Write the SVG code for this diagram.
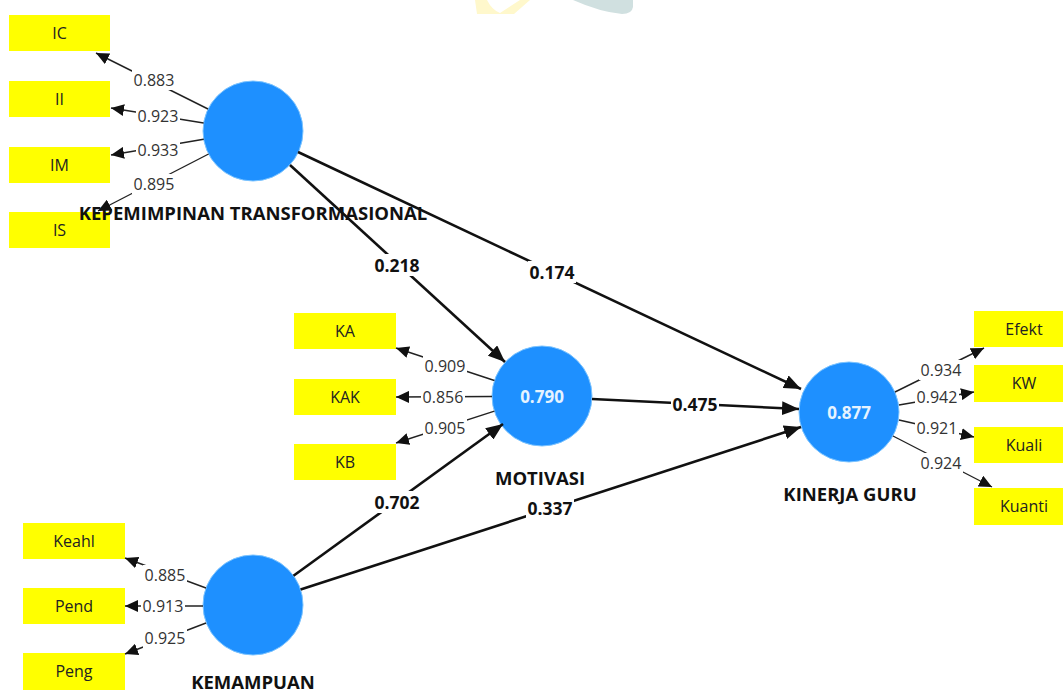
<svg xmlns="http://www.w3.org/2000/svg" width="1063" height="693" viewBox="0 0 1063 693">
<style>
.box{fill:#ffff00}
.boxt{font-family:"Open Sans","Noto Sans",sans-serif;font-size:16px;fill:#222;text-anchor:middle;dominant-baseline:central}
.lv{fill:#1e90ff;stroke:#7cc4ff;stroke-width:1}
.lvt{font-family:"Open Sans","Noto Sans",sans-serif;font-size:17px;font-weight:bold;fill:#e6f3ff;text-anchor:middle;dominant-baseline:central}
.title{font-family:"Open Sans","Noto Sans",sans-serif;font-size:18.5px;font-weight:bold;fill:#111;text-anchor:middle;dominant-baseline:central}
.ol{stroke:#222;stroke-width:1.4;fill:none;marker-end:url(#ah)}
.pl{stroke:#111;stroke-width:2.6;fill:none;marker-end:url(#ahb)}
.bg{fill:#ffffff}
.olt{font-family:"Open Sans","Noto Sans",sans-serif;font-size:16px;fill:#333;text-anchor:middle;dominant-baseline:central}
.plt{font-family:"Open Sans","Noto Sans",sans-serif;font-size:17.5px;font-weight:bold;fill:#111;text-anchor:middle;dominant-baseline:central}
</style>
<defs>
<marker id="ah" markerUnits="userSpaceOnUse" markerWidth="14" markerHeight="12" refX="13" refY="6" orient="auto">
<path d="M0,0 L13,6 L0,12 Z" fill="#111"/>
</marker>
<marker id="ahb" markerUnits="userSpaceOnUse" markerWidth="18" markerHeight="14" refX="17" refY="7" orient="auto">
<path d="M0,0 L17,7 L0,14 Z" fill="#111"/>
</marker>
</defs>
<rect width="1063" height="693" fill="#ffffff"/>
<g id="watermark">
<path d="M475,0 L487,0 Q492,10 500,13 L520,0 L530,0 L514,14 L477,14 Z" fill="#fff8cc"/>
<path d="M573,0 L633,0 L633,7 Q632,14 622,14 Q600,12 573,0 Z" fill="#d0e0e0"/>
</g>
<g id="ind-IC"><rect class="box" x="9" y="15" width="101" height="36"/><text class="boxt" x="59.5" y="33">IC</text></g>
<g id="ind-II"><rect class="box" x="9" y="81" width="101" height="36"/><text class="boxt" x="59.5" y="99">II</text></g>
<g id="ind-IM"><rect class="box" x="9" y="147" width="101" height="36"/><text class="boxt" x="59.5" y="165">IM</text></g>
<g id="ind-IS"><rect class="box" x="9" y="212" width="101" height="36"/><text class="boxt" x="59.5" y="230">IS</text></g>
<g id="ind-KA"><rect class="box" x="294" y="313" width="102" height="36"/><text class="boxt" x="345" y="331">KA</text></g>
<g id="ind-KAK"><rect class="box" x="294" y="379" width="102" height="36"/><text class="boxt" x="345" y="397">KAK</text></g>
<g id="ind-KB"><rect class="box" x="294" y="444" width="102" height="36"/><text class="boxt" x="345" y="462">KB</text></g>
<g id="ind-Keahl"><rect class="box" x="23" y="523" width="102" height="36"/><text class="boxt" x="74" y="541">Keahl</text></g>
<g id="ind-Pend"><rect class="box" x="23" y="588" width="102" height="36"/><text class="boxt" x="74" y="606">Pend</text></g>
<g id="ind-Peng"><rect class="box" x="23" y="653" width="102" height="37"/><text class="boxt" x="74" y="671">Peng</text></g>
<g id="ind-Efekt"><rect class="box" x="974" y="311" width="101" height="36"/><text class="boxt" x="1024" y="329">Efekt</text></g>
<g id="ind-KW"><rect class="box" x="974" y="365" width="101" height="37"/><text class="boxt" x="1024" y="383">KW</text></g>
<g id="ind-Kuali"><rect class="box" x="974" y="427" width="101" height="36"/><text class="boxt" x="1024" y="445">Kuali</text></g>
<g id="ind-Kuanti"><rect class="box" x="974" y="488" width="101" height="37"/><text class="boxt" x="1024" y="506">Kuanti</text></g>
<g id="node-kt">
<circle class="lv" cx="253" cy="131" r="50"/>
<text class="title" x="253" y="212">KEPEMIMPINAN TRANSFORMASIONAL</text>
</g>
<g id="node-mot">
<circle class="lv" cx="542" cy="396" r="50"/>
<text class="lvt" x="542" y="396">0.790</text>
<text class="title" x="540" y="477">MOTIVASI</text>
</g>
<g id="node-kem">
<circle class="lv" cx="253" cy="605" r="50"/>
<text class="title" x="253" y="681">KEMAMPUAN</text>
</g>
<g id="node-kin">
<circle class="lv" cx="849" cy="412" r="50"/>
<text class="lvt" x="849" y="412">0.877</text>
<text class="title" x="850" y="493">KINERJA GURU</text>
</g>
<g id="connectors">
<line class="ol" x1="208" y1="109" x2="96" y2="53"/>
<line class="ol" x1="203.6" y1="123" x2="111" y2="108"/>
<line class="ol" x1="203.7" y1="139.3" x2="111" y2="155"/>
<line class="ol" x1="208.6" y1="154" x2="98" y2="211"/>
<line class="ol" x1="494.4" y1="380.5" x2="396" y2="348"/>
<line class="ol" x1="492" y1="396.5" x2="396" y2="397"/>
<line class="ol" x1="494.4" y1="411.2" x2="396" y2="443"/>
<line class="ol" x1="206" y1="588" x2="125" y2="558"/>
<line class="ol" x1="203" y1="606" x2="125" y2="606"/>
<line class="ol" x1="206" y1="623" x2="125" y2="654"/>
<line class="ol" x1="895" y1="392" x2="984" y2="348"/>
<line class="ol" x1="899" y1="405" x2="974" y2="392"/>
<line class="ol" x1="899" y1="420" x2="974" y2="437"/>
<line class="ol" x1="893" y1="436" x2="992" y2="487"/>
<line class="pl" x1="290" y1="165" x2="505" y2="362"/>
<line class="pl" x1="298" y1="152" x2="801" y2="389"/>
<line class="pl" x1="592" y1="399" x2="799" y2="409"/>
<line class="pl" x1="293.5" y1="575.7" x2="503" y2="424"/>
<line class="pl" x1="300.6" y1="589.6" x2="801" y2="427"/>
<rect class="bg" x="132" y="70" width="44" height="20"/><text class="olt" x="154" y="80">0.883</text>
<rect class="bg" x="136" y="106" width="44" height="20"/><text class="olt" x="158" y="116">0.923</text>
<rect class="bg" x="136" y="140" width="44" height="20"/><text class="olt" x="158" y="150">0.933</text>
<rect class="bg" x="132" y="174" width="44" height="20"/><text class="olt" x="154" y="184">0.895</text>
<rect class="bg" x="423" y="356" width="44" height="20"/><text class="olt" x="445" y="366">0.909</text>
<rect class="bg" x="421" y="387" width="44" height="20"/><text class="olt" x="443" y="397">0.856</text>
<rect class="bg" x="423" y="418" width="44" height="20"/><text class="olt" x="445" y="428">0.905</text>
<rect class="bg" x="143" y="565" width="44" height="20"/><text class="olt" x="165" y="575">0.885</text>
<rect class="bg" x="141" y="596" width="44" height="20"/><text class="olt" x="163" y="606">0.913</text>
<rect class="bg" x="143" y="628" width="44" height="20"/><text class="olt" x="165" y="638">0.925</text>
<rect class="bg" x="919" y="360" width="44" height="20"/><text class="olt" x="941" y="370">0.934</text>
<rect class="bg" x="915" y="387" width="44" height="20"/><text class="olt" x="937" y="397">0.942</text>
<rect class="bg" x="915" y="418" width="44" height="20"/><text class="olt" x="937" y="428">0.921</text>
<rect class="bg" x="919" y="453" width="44" height="20"/><text class="olt" x="941" y="463">0.924</text>
<rect class="bg" x="373" y="254" width="48" height="22"/><text class="plt" x="397" y="265">0.218</text>
<rect class="bg" x="528" y="261" width="48" height="22"/><text class="plt" x="552" y="272">0.174</text>
<rect class="bg" x="671" y="393" width="48" height="22"/><text class="plt" x="695" y="404">0.475</text>
<rect class="bg" x="373" y="491" width="48" height="22"/><text class="plt" x="397" y="502">0.702</text>
<rect class="bg" x="526" y="497" width="48" height="22"/><text class="plt" x="550" y="508">0.337</text>
</g>
</svg>
